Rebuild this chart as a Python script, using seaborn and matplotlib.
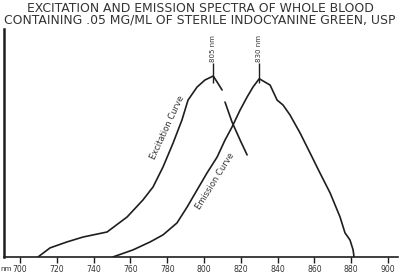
import numpy as np
import pandas as pd
import matplotlib
matplotlib.use("Agg")
import matplotlib.pyplot as plt
import seaborn as sns

title_lines = ["EXCITATION AND EMISSION SPECTRA OF WHOLE BLOOD",
               "CONTAINING .05 MG/ML OF STERILE INDOCYANINE GREEN, USP"]

# Excitation curve (two drawn segments, small gap near the top)
exc_nm_a = [709.8, 716.3, 725.5, 734.2, 747.3, 758.2, 766.8, 772.3, 777.7, 783.2,
            788.0, 791.3, 796.2, 800.5, 805.0, 807.1, 809.8]
exc_a = [0, 5.0, 8.3, 11.0, 13.8, 22.1, 31.5, 38.7, 49.7, 63.0,
         75.7, 86.7, 93.9, 97.8, 100, 96.7, 92.3]
exc_nm_b = [811.4, 815.2, 819.6, 823.4]
exc_b = [85.6, 74.6, 64.6, 56.4]

# Emission curve
emi_nm = [750.5, 761.4, 770.7, 777.7, 785.3, 790.8, 796.2, 801.6, 807.1, 811.4,
          815.2, 819.6, 823.4, 826.6, 830.0, 835.9, 839.7, 842.9, 846.7, 852.2,
          857.6, 863.0, 868.5, 873.9, 876.6, 879.3, 881.0, 881.5]
emi = [0, 3.9, 8.3, 12.2, 18.8, 27.6, 37.0, 46.4, 55.2, 64.6,
       71.8, 81.2, 88.4, 93.9, 98.5, 95.0, 86.7, 84.0, 78.5, 68.5,
       57.5, 46.4, 35.4, 22.1, 13.3, 9.4, 3.9, 0]

peak_nm = [805, 830]
peak_labels = ["805 nm", "830 nm"]
xticks = [700, 720, 740, 760, 780, 800, 820, 840, 860, 880, 900]

sns.set_theme(style="white")
plt.rcParams['font.family'] = ['DejaVu Sans']

fig = plt.figure(figsize=(4.0, 2.76), dpi=100)
ax = fig.add_axes([0.01, 0.069, 0.985, 0.826])

col = "#1e1e1e"
seg_a = pd.DataFrame({"nm": exc_nm_a, "I": exc_a})
seg_b = pd.DataFrame({"nm": exc_nm_b, "I": exc_b})
seg_e = pd.DataFrame({"nm": emi_nm, "I": emi})
for d in (seg_a, seg_b, seg_e):
    sns.lineplot(data=d, x="nm", y="I", ax=ax, color=col, lw=1.2,
                 sort=False, estimator=None)

ax.set_xlim(691.3, 905.4)
ax.set_ylim(0, 126)
ax.set_xticks(xticks)
ax.set_xticklabels([str(t) for t in xticks], fontsize=5.6, color="#333333")
ax.set_yticks([])
ax.set_xlabel("")
ax.set_ylabel("")
ax.tick_params(axis="x", direction="out", length=4, width=1.0, color=col, pad=1.5, bottom=True)
for s in ("top", "right"):
    ax.spines[s].set_visible(False)
ax.spines["left"].set_linewidth(1.8)
ax.spines["left"].set_color(col)
ax.spines["bottom"].set_linewidth(1.2)
ax.spines["bottom"].set_color(col)

fig.text(0.0, 0.027, "nm", fontsize=5.2, color="#333333", ha="left", va="center")

# Peak marks and labels
ax.vlines(peak_nm, 96, 107, color=col, lw=1.0)
for p, lab in zip(peak_nm, peak_labels):
    ax.text(p, 108, lab, rotation=90, fontsize=5, ha="center", va="bottom", color="#333333")

ax.text(780.0, 71.3, "Excitation Curve", rotation=65, fontsize=6, ha="center", va="center",
        color="#333333", rotation_mode="anchor")
ax.text(805.8, 42.0, "Emission Curve", rotation=58, fontsize=6, ha="center", va="center",
        color="#333333", rotation_mode="anchor")

fig.text(0.5, 0.971, title_lines[0], ha="center", va="center", fontsize=8.9, color="#333333")
fig.text(0.5, 0.928, title_lines[1], ha="center", va="center", fontsize=8.9, color="#333333")

fig.savefig("out.png", dpi=100)
